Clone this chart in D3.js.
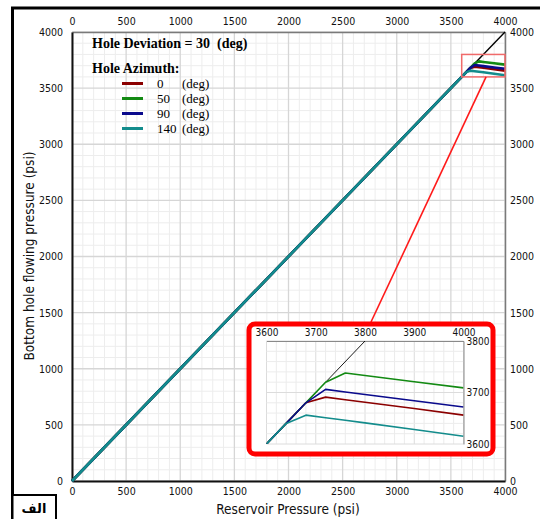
<!DOCTYPE html>
<html>
<head>
<meta charset="utf-8">
<script src="https://cdn.jsdelivr.net/npm/d3@7"></script>
<style>
  html, body { margin: 0; padding: 0; background: #fff; }
  svg { display: block; }
  .tick text { font-family: "DejaVu Sans Condensed", "DejaVu Sans", sans-serif; fill: #111; }
</style>
</head>
<body>
<svg id="chart" width="540" height="519"></svg>
<script>
// Reservoir pressure (psi) at which each curve is sampled
const reservoirPressure = [0, 3600, 3640, 3680, 3720, 3760, 3800, 3900, 4000];
// Bottom hole flowing pressure (psi) for each hole azimuth
const azimuthLabels = ["0", "50", "90", "140"];
const bhpAz0   = [0, 3600, 3640, 3680, 3691, 3686, 3681, 3669, 3656];
const bhpAz50  = [0, 3600, 3640, 3680, 3720, 3738, 3733, 3721, 3709];
const bhpAz90  = [0, 3600, 3640, 3680, 3706, 3701, 3696, 3684, 3672];
const bhpAz140 = [0, 3600, 3640, 3656, 3651, 3646, 3641, 3628, 3615];
// Reference line where BHP equals reservoir pressure
const idealX = [0, 4000];
const idealY = [0, 4000];
// Axis tick labels
const mainTicks = [0, 500, 1000, 1500, 2000, 2500, 3000, 3500, 4000];
const insetXTicks = [3600, 3700, 3800, 3900, 4000];
const insetYTicks = [3600, 3700, 3800];
const deviationDeg = 30;

const colors = { "0": "#8b0000", "50": "#138a13", "90": "#0a0a8c", "140": "#138c8c" };
const seriesValues = { "0": bhpAz0, "50": bhpAz50, "90": bhpAz90, "140": bhpAz140 };
// Drawing order so that shared segments show the right colour on top
const drawOrder = ["0", "50", "90", "140"];
const fmt = d3.format("d");

const svg = d3.select("#chart");

// Outer frame
svg.append("path")
  .attr("d", "M12.5,540 L12.5,8 L545,8")
  .attr("fill", "none").attr("stroke", "#000").attr("stroke-width", 3);

// ---------- main chart ----------
const x = d3.scaleLinear().domain([0, 4000]).range([72, 505]);
const y = d3.scaleLinear().domain([0, 4000]).range([481, 32]);

const grid = svg.append("g");
const minor = d3.range(0, 4001, 100);
grid.selectAll("line.vx").data(minor.filter(v => v % 500)).join("line")
  .attr("x1", d => x(d)).attr("x2", d => x(d)).attr("y1", y(0)).attr("y2", y(4000))
  .attr("stroke", "#ededed").attr("stroke-width", 1);
grid.selectAll("line.hy").data(minor.filter(v => v % 500)).join("line")
  .attr("y1", d => y(d)).attr("y2", d => y(d)).attr("x1", x(0)).attr("x2", x(4000))
  .attr("stroke", "#ededed").attr("stroke-width", 1);
grid.selectAll("line.vX").data(mainTicks).join("line")
  .attr("x1", d => x(d)).attr("x2", d => x(d)).attr("y1", y(0)).attr("y2", y(4000))
  .attr("stroke", "#d6d6d6").attr("stroke-width", 1.3);
grid.selectAll("line.hY").data(mainTicks).join("line")
  .attr("y1", d => y(d)).attr("y2", d => y(d)).attr("x1", x(0)).attr("x2", x(4000))
  .attr("stroke", "#d6d6d6").attr("stroke-width", 1.3);

function styleAxis(g, color, width, fontSize) {
  g.select(".domain").attr("stroke", color).attr("stroke-width", width);
  g.selectAll(".tick line").remove();
  g.selectAll(".tick text").attr("font-size", fontSize);
  g.attr("font-family", null);
}

svg.append("g").attr("transform", `translate(0,${y(4000)})`)
  .call(d3.axisTop(x).tickValues(mainTicks).tickFormat(fmt).tickSize(0).tickPadding(7).tickSizeOuter(0))
  .call(g => styleAxis(g, "#7a7a7a", 1.5, 10.5));
svg.append("g").attr("transform", `translate(${x(4000)},0)`)
  .call(d3.axisRight(y).tickValues(mainTicks).tickFormat(fmt).tickSize(0).tickPadding(5).tickSizeOuter(0))
  .call(g => styleAxis(g, "#7a7a7a", 1.5, 10.5));
svg.append("g").attr("transform", `translate(0,${y(0)})`)
  .call(d3.axisBottom(x).tickValues(mainTicks).tickFormat(fmt).tickSize(0).tickPadding(7).tickSizeOuter(0))
  .call(g => styleAxis(g, "#111", 2, 10.5));
svg.append("g").attr("transform", `translate(${x(0)},0)`)
  .call(d3.axisLeft(y).tickValues(mainTicks).tickFormat(fmt).tickSize(0).tickPadding(9).tickSizeOuter(0))
  .call(g => styleAxis(g, "#111", 2, 10.5));

// Axis titles
svg.append("text")
  .attr("x", 288).attr("y", 514).attr("text-anchor", "middle")
  .attr("font-family", "DejaVu Sans Condensed, DejaVu Sans, sans-serif").attr("font-size", 13.5)
  .attr("fill", "#111").text("Reservoir Pressure (psi)");
svg.append("text")
  .attr("transform", "translate(34,256) rotate(-90)").attr("text-anchor", "middle")
  .attr("font-family", "DejaVu Sans Condensed, DejaVu Sans, sans-serif").attr("font-size", 13.5)
  .attr("fill", "#111").text("Bottom hole flowing pressure (psi)");

const line = (sx, sy) => d3.line().x(d => sx(d[0])).y(d => sy(d[1]));
const zip = (xs, ys) => xs.map((v, i) => [v, ys[i]]);

const plot = svg.append("g");
plot.append("path").datum(zip(idealX, idealY))
  .attr("d", line(x, y)).attr("fill", "none").attr("stroke", "#000").attr("stroke-width", 1.4);
drawOrder.forEach(k => {
  plot.append("path").datum(zip(reservoirPressure, seriesValues[k]))
    .attr("d", line(x, y)).attr("fill", "none")
    .attr("stroke", colors[k]).attr("stroke-width", 2.6).attr("stroke-linejoin", "round");
});

// Zoomed region marker
const zx0 = 3600, zx1 = 4000, zy0 = 3600, zy1 = 3800;
svg.append("rect")
  .attr("x", x(zx0)).attr("y", y(zy1)).attr("width", x(zx1) - x(zx0)).attr("height", y(zy0) - y(zy1))
  .attr("fill", "none").attr("stroke", "#f06a6a").attr("stroke-width", 1.5);

// Connector from marker to inset
svg.append("line")
  .attr("x1", x(3825)).attr("y1", y(zy0)).attr("x2", 371).attr("y2", 322)
  .attr("stroke", "#ff1a1a").attr("stroke-width", 1.6);

// Legend
const legend = svg.append("g").attr("font-family", "Liberation Serif, Times New Roman, serif").attr("fill", "#000");
legend.append("text").attr("x", 92).attr("y", 48).attr("font-size", 14).attr("font-weight", "bold")
  .style("white-space", "pre").text(`Hole Deviation = ${deviationDeg}  (deg)`);
legend.append("text").attr("x", 92).attr("y", 73).attr("font-size", 14).attr("font-weight", "bold")
  .text("Hole Azimuth:");
azimuthLabels.forEach((k, i) => {
  const ly = 83.5 + i * 15;
  legend.append("line").attr("x1", 122).attr("x2", 143).attr("y1", ly).attr("y2", ly)
    .attr("stroke", colors[k]).attr("stroke-width", 3);
  legend.append("text").attr("x", 157).attr("y", ly + 4.5).attr("font-size", 13).text(k);
  legend.append("text").attr("x", 182).attr("y", ly + 4.5).attr("font-size", 13).text("(deg)");
});

// ---------- inset ----------
svg.append("rect")
  .attr("x", 249).attr("y", 324).attr("width", 244).attr("height", 130).attr("rx", 6)
  .attr("fill", "#fff").attr("stroke", "#ff0000").attr("stroke-width", 5);

const xi = d3.scaleLinear().domain([zx0, zx1]).range([266.5, 463.5]);
const yi = d3.scaleLinear().domain([zy0, zy1]).range([444, 341]);

const ig = svg.append("g");
const iMinorX = d3.range(zx0, zx1 + 1, 20);
const iMinorY = d3.range(zy0, zy1 + 1, 20);
ig.selectAll("line.ivx").data(iMinorX).join("line")
  .attr("x1", d => xi(d)).attr("x2", d => xi(d)).attr("y1", yi(zy0)).attr("y2", yi(zy1))
  .attr("stroke", d => d % 100 ? "#ececec" : "#dcdcdc").attr("stroke-width", 1);
ig.selectAll("line.ihy").data(iMinorY).join("line")
  .attr("y1", d => yi(d)).attr("y2", d => yi(d)).attr("x1", xi(zx0)).attr("x2", xi(zx1))
  .attr("stroke", d => d % 100 ? "#ececec" : "#dcdcdc").attr("stroke-width", 1);

svg.append("g").attr("transform", `translate(0,${yi(zy1)})`)
  .call(d3.axisTop(xi).tickValues(insetXTicks).tickFormat(fmt).tickSize(0).tickPadding(5).tickSizeOuter(0))
  .call(g => styleAxis(g, "#8a8a8a", 1, 10));
svg.append("g").attr("transform", `translate(${xi(zx1)},0)`)
  .call(d3.axisRight(yi).tickValues(insetYTicks).tickFormat(fmt).tickSize(0).tickPadding(3).tickSizeOuter(0))
  .call(g => styleAxis(g, "#8a8a8a", 1, 10));

svg.append("clipPath").attr("id", "insetClip").append("rect")
  .attr("x", xi(zx0)).attr("y", yi(zy1)).attr("width", xi(zx1) - xi(zx0)).attr("height", yi(zy0) - yi(zy1));

const ip = svg.append("g").attr("clip-path", "url(#insetClip)");
ip.append("path").datum(zip(idealX, idealY))
  .attr("d", line(xi, yi)).attr("fill", "none").attr("stroke", "#000").attr("stroke-width", 0.9);
drawOrder.forEach(k => {
  ip.append("path").datum(zip(reservoirPressure, seriesValues[k]))
    .attr("d", line(xi, yi)).attr("fill", "none")
    .attr("stroke", colors[k]).attr("stroke-width", 1.6).attr("stroke-linejoin", "round");
});

// Panel label
svg.append("rect").attr("x", 12.5).attr("y", 495).attr("width", 43.5).attr("height", 30)
  .attr("fill", "#fff").attr("stroke", "#000").attr("stroke-width", 2);
svg.append("text").attr("x", 34).attr("y", 513).attr("text-anchor", "middle")
  .attr("font-family", "DejaVu Sans, Noto Sans, sans-serif").attr("font-weight", "bold").attr("font-size", 13)
  .text("الف");
</script>
</body>
</html>
